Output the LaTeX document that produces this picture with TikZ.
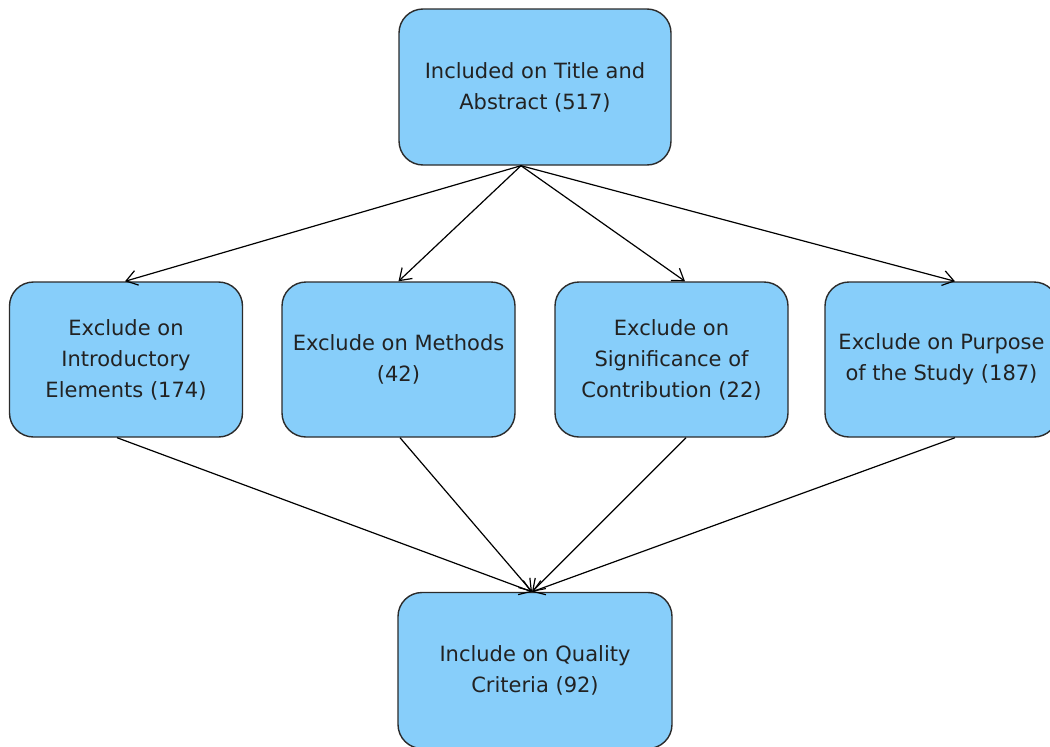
\documentclass[tikz,border=0pt]{standalone}
\usepackage{fontspec}
\setmainfont{DejaVu Sans}
\usetikzlibrary{arrows.meta}

\definecolor{boxfill}{HTML}{87CEFA}
\definecolor{boxline}{HTML}{2B2B2B}
\definecolor{textcol}{HTML}{222222}

\tikzset{
  stagebox/.style={
    draw=boxline, line width=1.4pt, fill=boxfill,
    rounded corners=24pt, align=center, text=textcol,
    font=\fontsize{21}{31}\selectfont, inner sep=0pt
  },
  topbox/.style={stagebox, minimum width=272pt, minimum height=156pt},
  midbox/.style={stagebox, minimum width=233pt, minimum height=155pt},
  flow/.style={draw=black, line width=1.2pt,
    -{Straight Barb[length=11pt,width=15pt,line width=1.2pt]}}
}

\begin{document}
\begin{tikzpicture}[x=1pt,y=-1pt]
  \useasboundingbox (0,0) rectangle (1050,747);
  \clip (0,0) rectangle (1050,747);

  % screening stages
  \node[topbox] (title) at (535,87) {Included on Title and\\Abstract (517)};

  \node[midbox] (intro)   at (126,359.5)   {Exclude on\\Introductory\\Elements (174)};
  \node[midbox] (methods) at (398.5,359.5) {Exclude on Methods\\(42)};
  \node[midbox] (signif)  at (671.5,359.5) {Exclude on\\Significance of\\Contribution (22)};
  \node[midbox] (purpose) at (941.5,359.5) {Exclude on Purpose\\of the Study (187)};

  \node[topbox, minimum width=274pt] (quality) at (535,670.5) {Include on Quality\\Criteria (92)};

  % connector end points on the box edges
  \coordinate (titleOut)   at ([xshift=-14pt]title.south);
  \coordinate (introIn)    at ([xshift=-1pt]intro.north);
  \coordinate (methodsIn)  at (methods.north);
  \coordinate (signifIn)   at ([xshift=13.5pt]signif.north);
  \coordinate (purposeIn)  at ([xshift=13.5pt]purpose.north);
  \coordinate (introOut)   at ([xshift=-9pt]intro.south);
  \coordinate (methodsOut) at ([xshift=1.5pt]methods.south);
  \coordinate (signifOut)  at ([xshift=14.5pt]signif.south);
  \coordinate (purposeOut) at ([xshift=13.5pt]purpose.south);
  \coordinate (qualityIn)  at ([xshift=-3pt]quality.north);

  % first split
  \draw[flow] (titleOut) -- (introIn);
  \draw[flow] (titleOut) -- (methodsIn);
  \draw[flow] (titleOut) -- (signifIn);
  \draw[flow] (titleOut) -- (purposeIn);

  % merge into quality screening
  \draw[flow] (introOut)   -- (qualityIn);
  \draw[flow] (methodsOut) -- (qualityIn);
  \draw[flow] (signifOut)  -- (qualityIn);
  \draw[flow] (purposeOut) -- (qualityIn);
\end{tikzpicture}
\end{document}
